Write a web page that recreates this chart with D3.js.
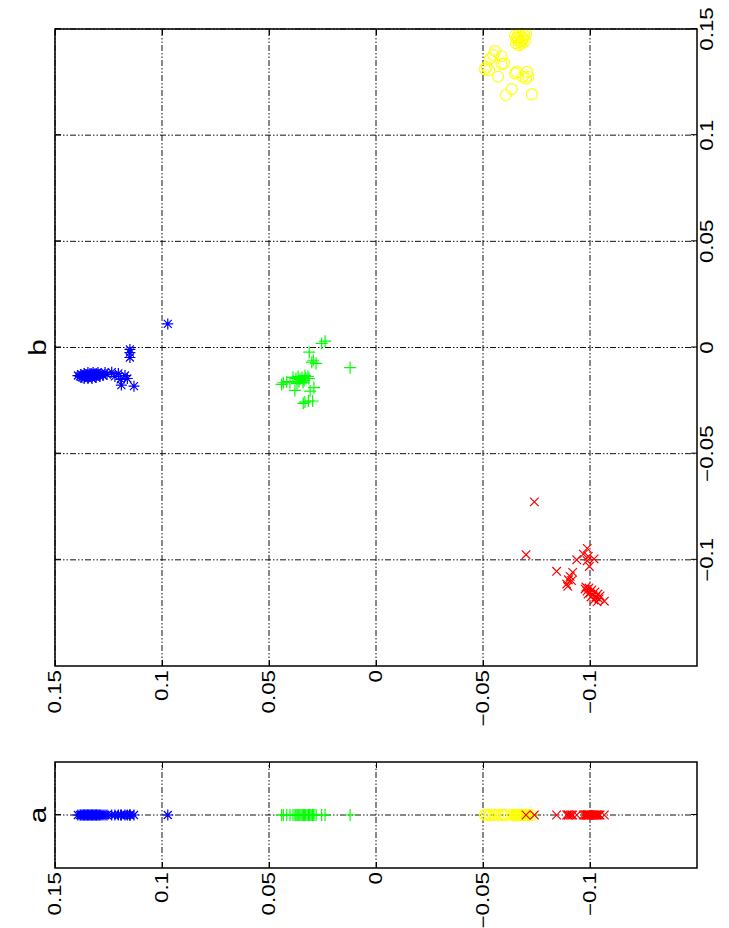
<!DOCTYPE html>
<html>
<head>
<meta charset="utf-8">
<script src="https://cdn.jsdelivr.net/npm/d3@7"></script>
<style>
    body { margin: 0; background: #fff; }
    svg { display: block; }
    .tick-label, .panel-title { font-family: "Liberation Sans", Arial, Helvetica, sans-serif; fill: #000; }
</style>
</head>
<body>
<div id="chart"></div>
<script>
// each point is [x, y] of the original (unrotated) figure
var tickValues = [-0.1, -0.05, 0, 0.05, 0.1, 0.15];
var tickLabels = ["\u22120.1", "\u22120.05", "0", "0.05", "0.1", "0.15"];
var panelTitles = ["a", "b"];

var blueStar = [
    [-0.0132, 0.1393], [-0.0136, 0.1383], [-0.0127, 0.1379], [-0.0141, 0.1374], [-0.0132, 0.1369],
    [-0.0122, 0.1364], [-0.0136, 0.1360], [-0.0127, 0.1355], [-0.0132, 0.1350], [-0.0118, 0.1346],
    [-0.0136, 0.1341], [-0.0127, 0.1336], [-0.0122, 0.1332], [-0.0132, 0.1327], [-0.0118, 0.1322],
    [-0.0127, 0.1318], [-0.0136, 0.1313], [-0.0122, 0.1308], [-0.0132, 0.1304], [-0.0118, 0.1299],
    [-0.0127, 0.1294], [-0.0136, 0.1290], [-0.0122, 0.1285], [-0.0132, 0.1276], [-0.0118, 0.1266],
    [-0.0127, 0.1257], [-0.0146, 0.1364], [-0.0146, 0.1346], [-0.0146, 0.1327], [-0.0141, 0.1308],
    [-0.0116, 0.1235], [-0.0136, 0.1220], [-0.0122, 0.1204], [-0.0150, 0.1193], [-0.0132, 0.1173],
    [-0.0146, 0.1162], [-0.0177, 0.1190], [-0.0182, 0.1131],
    [-0.0009, 0.1150], [-0.0024, 0.1150], [-0.0047, 0.1150], [0.0111, 0.0973]
];

var greenPlus = [
    [0.0030, 0.0238], [0.0019, 0.0254], [-0.0022, 0.0312], [-0.0060, 0.0293], [-0.0075, 0.0280],
    [-0.0069, 0.0300], [-0.0095, 0.0121],
    [-0.0141, 0.0388], [-0.0146, 0.0374], [-0.0136, 0.0364], [-0.0150, 0.0355], [-0.0141, 0.0346],
    [-0.0155, 0.0336], [-0.0146, 0.0327], [-0.0136, 0.0318], [-0.0165, 0.0341], [-0.0160, 0.0360],
    [-0.0169, 0.0369], [-0.0132, 0.0332], [-0.0146, 0.0313],
    [-0.0166, 0.0433], [-0.0161, 0.0417], [-0.0166, 0.0402], [-0.0174, 0.0441],
    [-0.0202, 0.0379], [-0.0205, 0.0308], [-0.0189, 0.0290],
    [-0.0257, 0.0332], [-0.0252, 0.0316], [-0.0252, 0.0296], [-0.0263, 0.0340]
];

var yellowCircle = [
    [0.1471, -0.0650], [0.1461, -0.0659], [0.1476, -0.0668], [0.1466, -0.0678], [0.1457, -0.0687],
    [0.1447, -0.0664], [0.1438, -0.0673], [0.1447, -0.0682], [0.1471, -0.0692], [0.1433, -0.0654],
    [0.1424, -0.0668], [0.1429, -0.0678], [0.1443, -0.0696], [0.1457, -0.0659], [0.1476, -0.0701],
    [0.1396, -0.0556], [0.1377, -0.0548], [0.1372, -0.0587], [0.1361, -0.0533], [0.1322, -0.0517],
    [0.1310, -0.0509], [0.1306, -0.0529], [0.1335, -0.0587], [0.1338, -0.0598], [0.1275, -0.0571],
    [0.1298, -0.0657], [0.1291, -0.0650], [0.1298, -0.0707], [0.1267, -0.0701], [0.1275, -0.0686],
    [0.1275, -0.0712], [0.1217, -0.0634], [0.1189, -0.0606], [0.1192, -0.0728]
];

var redCross = [
    [-0.0727, -0.0740], [-0.0976, -0.0701], [-0.1054, -0.0844],
    [-0.1059, -0.0919], [-0.1078, -0.0907], [-0.1094, -0.0899], [-0.1098, -0.0914], [-0.1114, -0.0891],
    [-0.1125, -0.0896], [-0.1000, -0.0938], [-0.0973, -0.0969], [-0.0946, -0.0987], [-0.0984, -0.0992],
    [-0.0996, -0.1019], [-0.1031, -0.0997], [-0.1004, -0.0987],
    [-0.1137, -0.0977], [-0.1147, -0.0986], [-0.1133, -0.0995], [-0.1156, -0.1000], [-0.1142, -0.1009],
    [-0.1165, -0.1014], [-0.1151, -0.1023], [-0.1175, -0.1028], [-0.1161, -0.1037], [-0.1184, -0.1042],
    [-0.1189, -0.1019], [-0.1175, -0.1005], [-0.1161, -0.0991], [-0.1198, -0.1033], [-0.1170, -0.1047],
    [-0.1128, -0.0981], [-0.1195, -0.1067]
];

var gSeries = [
    { data : blueStar, color : '#0000ff', marker : 'star' },
    { data : greenPlus, color : '#00ff00', marker : 'plus' },
    { data : yellowCircle, color : '#ffff00', marker : 'circle' },
    { data : redCross, color : '#ff0000', marker : 'cross' }
];

var gSettings = {
    width : 729,
    height : 928,
    fontSize : 18,
    textStretch : 1.24,
    tickLen : 6
};

//---------------------------------------------------------------
function markerPath(pType){
    var h = 6, s = 5.5, d = 4, c = 4.3;
    if(pType == 'plus'){
        return 'M' + (-h) + ',0H' + h + 'M0,' + (-h) + 'V' + h;
    }
    if(pType == 'cross'){
        return 'M' + (-c) + ',' + (-c) + 'L' + c + ',' + c + 'M' + (-c) + ',' + c + 'L' + c + ',' + (-c);
    }
    // star = plus + cross
    return 'M' + (-s) + ',0H' + s + 'M0,' + (-s) + 'V' + s +
        'M' + (-d) + ',' + (-d) + 'L' + d + ',' + d + 'M' + (-d) + ',' + d + 'L' + d + ',' + (-d);
}

//---------------------------------------------------------------
function drawPanel(pRoot, pCfg){
    var g = pRoot.append('g'),
        x = pCfg.x,
        y = pCfg.y,
        x0 = x.range()[0], x1 = x.range()[1],
        y0 = y.range()[1], y1 = y.range()[0];

    //grid lines
    var grid = g.append('g')
        .attr('stroke', '#111')
        .attr('stroke-width', 1)
        .attr('stroke-dasharray', '6,2,1.5,2,1.5,2')
        .attr('fill', 'none');

    grid.selectAll('line.gx').data(pCfg.xTicks).enter().append('line')
        .attr('x1', function(d){ return x(d); })
        .attr('x2', function(d){ return x(d); })
        .attr('y1', y0).attr('y2', y1);

    grid.selectAll('line.gy').data(tickValues).enter().append('line')
        .attr('y1', function(d){ return y(d); })
        .attr('y2', function(d){ return y(d); })
        .attr('x1', x0).attr('x2', x1);

    //inward ticks on all four sides
    var axes = [
        { ax : d3.axisBottom(x).tickValues(pCfg.xTicks), tr : 'translate(0,' + y1 + ')' },
        { ax : d3.axisTop(x).tickValues(pCfg.xTicks), tr : 'translate(0,' + y0 + ')' },
        { ax : d3.axisLeft(y).tickValues(tickValues), tr : 'translate(' + x0 + ',0)' },
        { ax : d3.axisRight(y).tickValues(tickValues), tr : 'translate(' + x1 + ',0)' }
    ];
    axes.forEach(function(a){
        var ag = g.append('g').attr('transform', a.tr)
            .call(a.ax.tickSizeInner(-gSettings.tickLen).tickSizeOuter(0).tickFormat(''));
        ag.select('.domain').remove();
        ag.selectAll('.tick line').attr('stroke', '#000').attr('stroke-width', 1);
    });

    //markers
    pCfg.series.forEach(function(s){
        var sel = g.append('g').selectAll('.mk').data(s.data).enter();
        if(s.marker == 'circle'){
            sel.append('circle')
                .attr('cx', function(d){ return x(pCfg.getX(d)); })
                .attr('cy', function(d){ return y(d[1]); })
                .attr('r', 5.5)
                .attr('fill', 'none')
                .attr('stroke', s.color)
                .attr('stroke-width', 1.1);
        }
        else{
            sel.append('path')
                .attr('transform', function(d){ return 'translate(' + x(pCfg.getX(d)) + ',' + y(d[1]) + ')'; })
                .attr('d', markerPath(s.marker))
                .attr('fill', 'none')
                .attr('stroke', s.color)
                .attr('stroke-width', 1.2);
        }
    });

    //box
    g.append('rect')
        .attr('x', x0).attr('y', y0)
        .attr('width', x1 - x0).attr('height', y1 - y0)
        .attr('fill', 'none')
        .attr('stroke', '#000')
        .attr('stroke-width', 1.5);

    //y labels (left side of the original figure)
    g.selectAll('.ylab').data(tickValues).enter().append('text')
        .attr('class', 'tick-label')
        .attr('transform', function(d){ return 'translate(' + (x0 - 4) + ',' + y(d) + ') scale(' + gSettings.textStretch + ',1)'; })
        .attr('text-anchor', 'end')
        .attr('dy', '0.35em')
        .style('font-size', gSettings.fontSize + 'px')
        .text(function(d, i){ return tickLabels[i]; });

    //x labels (bottom of the original figure)
    if(pCfg.xLabels){
        g.selectAll('.xlab').data(pCfg.xTicks).enter().append('text')
            .attr('class', 'tick-label')
            .attr('transform', function(d){ return 'translate(' + x(d) + ',' + (y1 + 3) + ') scale(' + gSettings.textStretch + ',1)'; })
            .attr('text-anchor', 'middle')
            .attr('dy', '0.72em')
            .style('font-size', gSettings.fontSize + 'px')
            .text(function(d){ return tickLabels[tickValues.indexOf(d)]; });
    }

    //title
    g.append('text')
        .attr('class', 'panel-title')
        .attr('transform', 'translate(' + ((x0 + x1) / 2) + ',' + (y0 - 9) + ') scale(' + gSettings.textStretch + ',1)')
        .attr('text-anchor', 'middle')
        .style('font-size', '24px')
        .text(pCfg.title);
}

//---------------------------------------------------------------
function bootstrap(){
    var svg = d3.select('#chart').append('svg')
        .attr('width', gSettings.width)
        .attr('height', gSettings.height);

    svg.append('rect').attr('width', gSettings.width).attr('height', gSettings.height).attr('fill', '#fff');

    // the figure is printed in landscape: draw it upright then turn it
    var root = svg.append('g')
        .attr('transform', 'translate(0,' + gSettings.height + ') rotate(-90)');

    var yScale = d3.scaleLinear().domain([-0.15, 0.15]).range([697, 55]);

    //panel a : 1-D projection, everything on x = 0
    drawPanel(root, {
        x : d3.scaleLinear().domain([-1, 1]).range([60, 166]),
        y : yScale,
        xTicks : [0],
        xLabels : false,
        getX : function(){ return 0; },
        series : gSeries,
        title : panelTitles[0]
    });

    //panel b : 2-D scatter
    drawPanel(root, {
        x : d3.scaleLinear().domain([-0.15, 0.15]).range([262, 899]),
        y : yScale,
        xTicks : tickValues,
        xLabels : true,
        getX : function(d){ return d[0]; },
        series : gSeries,
        title : panelTitles[1]
    });
}

bootstrap();
</script>
</body>
</html>
